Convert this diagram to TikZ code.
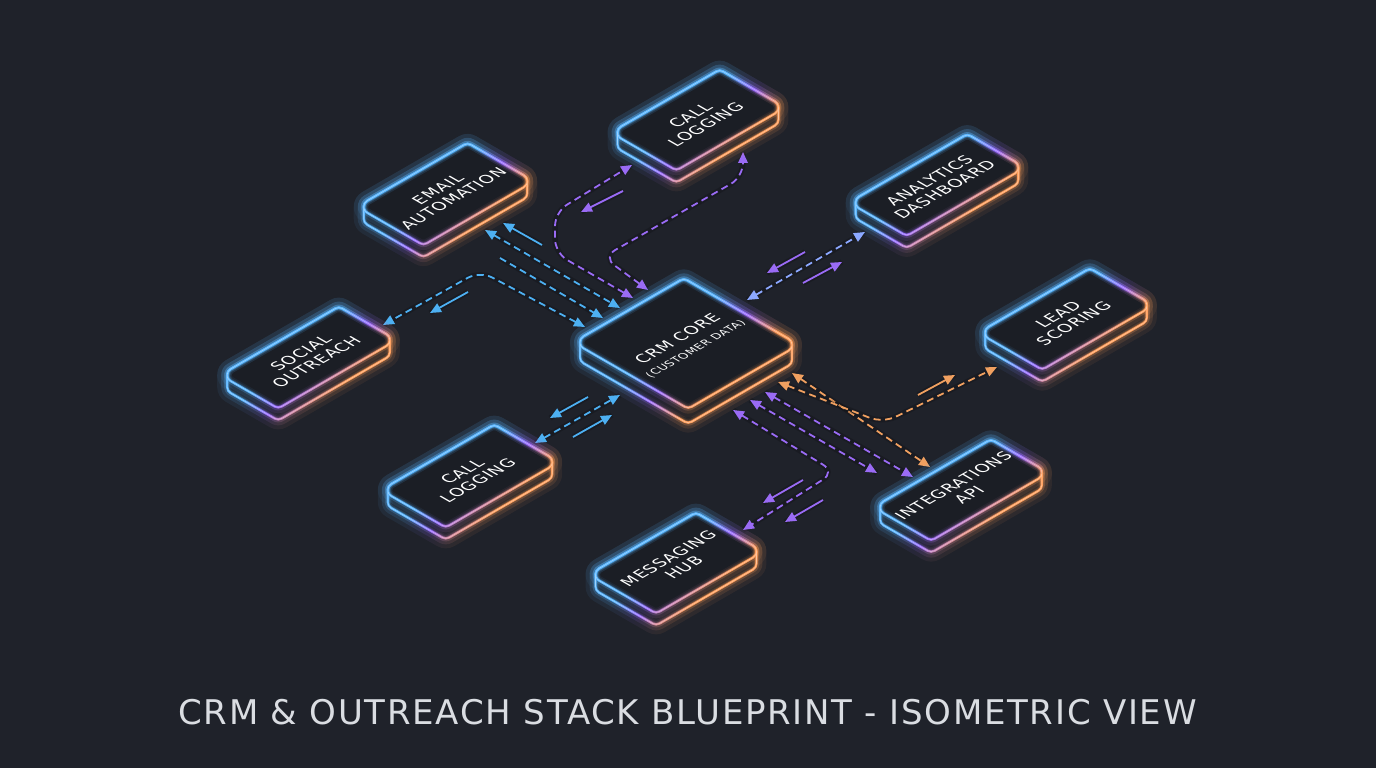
\documentclass[tikz,border=0pt]{standalone}
\usepackage{fontspec}
\usetikzlibrary{calc,arrows.meta}
\newfontfamily\lblfont[LetterSpace=5]{DejaVu Sans}
\newfontfamily\ttlfont[LetterSpace=5]{DejaVu Sans}
\definecolor{bg}{HTML}{1F222A}
\definecolor{boxfill}{HTML}{1B1E25}
\definecolor{cblue}{HTML}{5AB6FF}
\definecolor{cpurple}{HTML}{9C6CFF}
\definecolor{corange}{HTML}{FF9E5A}
\definecolor{lblue}{HTML}{4DB0F2}
\definecolor{lpurple}{HTML}{9A6BF5}
\definecolor{lorange}{HTML}{F0A060}
\definecolor{llav}{HTML}{8CA8FF}
\definecolor{ttl}{HTML}{DADDE2}
\pgfdeclarehorizontalshading{boxgrad}{100bp}{color(0bp)=(cblue); color(45bp)=(cblue); color(53bp)=(cpurple); color(61bp)=(corange); color(100bp)=(corange)}
\def\ibrad{7}
\def\ibang{-48}
\def\ibtop#1{($(CL)+(120:#1)$) -- ($(CT)+(120:#1)$) arc[start angle=120,end angle=60,radius=#1] -- ($(CR)+(60:#1)$) arc[start angle=60,end angle=-60,radius=#1] -- ($(CB)+(-60:#1)$) arc[start angle=-60,end angle=-120,radius=#1] -- ($(CL)+(240:#1)$) arc[start angle=240,end angle=120,radius=#1] -- cycle}
\def\ibsil#1{($(CL)+(180:#1)$) arc[start angle=180,end angle=120,radius=#1] -- ($(CT)+(120:#1)$) arc[start angle=120,end angle=60,radius=#1] -- ($(CR)+(60:#1)$) arc[start angle=60,end angle=0,radius=#1] -- ($(CRb)+(0:#1)$) arc[start angle=0,end angle=-60,radius=#1] -- ($(CBb)+(-60:#1)$) arc[start angle=-60,end angle=-120,radius=#1] -- ($(CLb)+(240:#1)$) arc[start angle=240,end angle=180,radius=#1] -- cycle}
\newcommand\ibring[3]{%
  \pgfmathsetmacro\ibri{#1}\pgfmathsetmacro\ibro{#2}%
  \begin{scope}[even odd rule]
    \clip \ibtop{\ibro} \ibtop{\ibri};
    \shade[shading=boxgrad,shading angle=\ibang,opacity=#3] (\ibXa,\ibYa) rectangle (\ibXb,\ibYb);
  \end{scope}
  \begin{scope}[even odd rule]
    \clip \ibsil{\ibro} \ibsil{\ibri};
    \shade[shading=boxgrad,shading angle=\ibang,opacity=#3] (\ibXa,\ibYa) rectangle (\ibXb,\ibYb);
  \end{scope}
}
\newcommand\isobox[7]{%
  \pgfmathsetmacro\ibcx{#2}\pgfmathsetmacro\ibcy{768-#3}%
  \pgfmathsetmacro\ibLx{\ibcx-0.433*(#4+#5)}\pgfmathsetmacro\ibLy{\ibcy-0.25*(#4-#5)}%
  \pgfmathsetmacro\ibTx{\ibcx+0.433*(#4-#5)}\pgfmathsetmacro\ibTy{\ibcy+0.25*(#4+#5)}%
  \pgfmathsetmacro\ibRx{\ibcx+0.433*(#4+#5)}\pgfmathsetmacro\ibRy{\ibcy+0.25*(#4-#5)}%
  \pgfmathsetmacro\ibBx{\ibcx-0.433*(#4-#5)}\pgfmathsetmacro\ibBy{\ibcy-0.25*(#4+#5)}%
  \pgfmathsetmacro\ibXa{\ibLx-14}\pgfmathsetmacro\ibXb{\ibRx+14}%
  \pgfmathsetmacro\ibYa{\ibBy-#6-14}\pgfmathsetmacro\ibYb{\ibTy+14}%
  \coordinate (CL) at (\ibLx+2*\ibrad,\ibLy);
  \coordinate (CT) at (\ibTx,\ibTy-1.155*\ibrad);
  \coordinate (CR) at (\ibRx-2*\ibrad,\ibRy);
  \coordinate (CB) at (\ibBx,\ibBy+1.155*\ibrad);
  \coordinate (CLb) at ($(CL)+(0,-#6)$);
  \coordinate (CRb) at ($(CR)+(0,-#6)$);
  \coordinate (CBb) at ($(CB)+(0,-#6)$);
  \path[fill=boxfill] \ibsil{\ibrad};
  \ibring{\ibrad-4.5}{\ibrad+10}{0.07}
  \ibring{\ibrad-3}{\ibrad+6}{0.12}
  \ibring{\ibrad-2}{\ibrad+3}{0.22}
  \ibring{\ibrad-1.2}{\ibrad+1.2}{1}
  \draw[white,opacity=0.4,line width=0.6pt] \ibtop{\ibrad} \ibsil{\ibrad};
  \node[boxlbl,cm={0.866,0.5,-0.866,0.5,(0,0)}] (#1) at (\ibcx,\ibcy) {#7};
}
\tikzset{
  boxlbl/.style={text=white,font=\lblfont\fontsize{16}{18}\selectfont,align=center,inner sep=0pt},
  cn/.style={line width=1.8pt,preaction={draw,line width=5.5pt,opacity=0.18,arrows=-}},
  dsh/.style={dash pattern=on 7pt off 4.5pt},
  tp/.style={-{Triangle[length=11pt,width=9.5pt]}},
  tp2/.style={{Triangle[length=11pt,width=9.5pt]}-{Triangle[length=11pt,width=9.5pt]}},
  rc/.style={rounded corners=14pt}
}
\begin{document}
\begin{tikzpicture}[x=1pt,y=1pt]
\useasboundingbox (0,0) rectangle (1376,768);
\fill[bg] (0,0) rectangle (1376,768);
% connector end points
\coordinate (e1s) at (542,523); \coordinate (e1e) at (503,545);
\coordinate (e2s) at (485,538); \coordinate (e2e) at (620,460);
\coordinate (e3s) at (500,510); \coordinate (e3e) at (603,450);
\coordinate (s1s) at (585,441); \coordinate (s1m) at (480,497); \coordinate (s1e) at (383,443);
\coordinate (s2s) at (468,476); \coordinate (s2e) at (430,455);
\coordinate (p1s) at (633,470); \coordinate (p1m) at (555,515); \coordinate (p1n) at (555,556); \coordinate (p1e) at (632,603);
\coordinate (p2s) at (623,577); \coordinate (p2e) at (581,556);
\coordinate (p3s) at (648,478); \coordinate (p3m) at (603,511); \coordinate (p3n) at (743,591); \coordinate (p3e) at (743,616);
\coordinate (a1s) at (747,468); \coordinate (a1e) at (865,536);
\coordinate (a2s) at (805,516); \coordinate (a2e) at (767,495);
\coordinate (a3s) at (803,485); \coordinate (a3e) at (842,506);
\coordinate (c1s) at (535,325); \coordinate (c1e) at (620,373);
\coordinate (c2s) at (588,371); \coordinate (c2e) at (550,350);
\coordinate (c3s) at (573,331); \coordinate (c3e) at (612,353);
\coordinate (o1s) at (792,395); \coordinate (o1e) at (930,301);
\coordinate (o2s) at (778,386); \coordinate (o2m) at (883,345); \coordinate (o2e) at (997,401);
\coordinate (o3s) at (918,373); \coordinate (o3e) at (955,393);
\coordinate (v1s) at (765,376); \coordinate (v1e) at (913,291);
\coordinate (v2s) at (750,368); \coordinate (v2e) at (877,295);
\coordinate (v3s) at (733,358); \coordinate (v3m) at (835,296); \coordinate (v3e) at (743,238);
\coordinate (m1s) at (803,288); \coordinate (m1e) at (763,265);
\coordinate (m2s) at (823,268); \coordinate (m2e) at (785,246);
% connectors
\draw[lblue,cn,tp] (e1s) -- (e1e);
\draw[lblue,cn,dsh,tp2] (e2s) -- (e2e);
\draw[lblue,cn,dsh,tp] (e3s) -- (e3e);
\draw[lblue,cn,dsh,tp2,rc] (s1s) -- (s1m) -- (s1e);
\draw[lblue,cn,tp] (s2s) -- (s2e);
\draw[lpurple,cn,dsh,tp2,rc] (p1s) -- (p1m) -- (p1n) -- (p1e);
\draw[lpurple,cn,tp] (p2s) -- (p2e);
\draw[lpurple,cn,dsh,tp2,rc] (p3s) -- (p3m) -- (p3n) -- (p3e);
\draw[llav,cn,dsh,tp2] (a1s) -- (a1e);
\draw[lpurple,cn,tp] (a2s) -- (a2e);
\draw[lpurple,cn,tp] (a3s) -- (a3e);
\draw[lblue,cn,dsh,tp2] (c1s) -- (c1e);
\draw[lblue,cn,tp] (c2s) -- (c2e);
\draw[lblue,cn,tp] (c3s) -- (c3e);
\draw[lorange,cn,dsh,tp2] (o1s) -- (o1e);
\draw[lorange,cn,dsh,tp2,rc] (o2s) -- (o2m) -- (o2e);
\draw[lorange,cn,tp] (o3s) -- (o3e);
\draw[lpurple,cn,dsh,tp2] (v1s) -- (v1e);
\draw[lpurple,cn,dsh,tp2] (v2s) -- (v2e);
\draw[lpurple,cn,dsh,tp2,rc] (v3s) -- (v3m) -- (v3e);
\draw[lpurple,cn,tp] (m1s) -- (m1e);
\draw[lpurple,cn,tp] (m2s) -- (m2e);
% boxes
\isobox{email}{445.5}{194}{128}{77}{12}{EMAIL\\AUTOMATION}
\isobox{calltop}{698}{120}{126}{76}{12}{CALL\\LOGGING}
\isobox{analytics}{937}{185}{137}{67}{12}{ANALYTICS\\DASHBOARD}
\isobox{social}{308.5}{357.5}{137}{67}{12}{SOCIAL\\OUTREACH}
\isobox{lead}{1066}{319}{129}{74}{12}{LEAD\\SCORING}
\isobox{callbot}{470}{476}{131}{75}{12}{CALL\\LOGGING}
\isobox{msg}{676}{563}{124}{78}{12}{MESSAGING\\HUB}
\isobox{integ}{961}{490}{136}{67}{12}{INTEGRATIONS\\API}
\isobox{core}{686}{343.5}{128}{133}{15}{CRM CORE\\[1pt]{\fontsize{11}{13}\selectfont (CUSTOMER DATA)}}
% title
\node[text=ttl,font=\ttlfont\fontsize{34}{40}\selectfont,anchor=base,inner sep=0pt] (title) at (687.5,43) {CRM \& OUTREACH STACK BLUEPRINT - ISOMETRIC VIEW};
\end{tikzpicture}
\end{document}
